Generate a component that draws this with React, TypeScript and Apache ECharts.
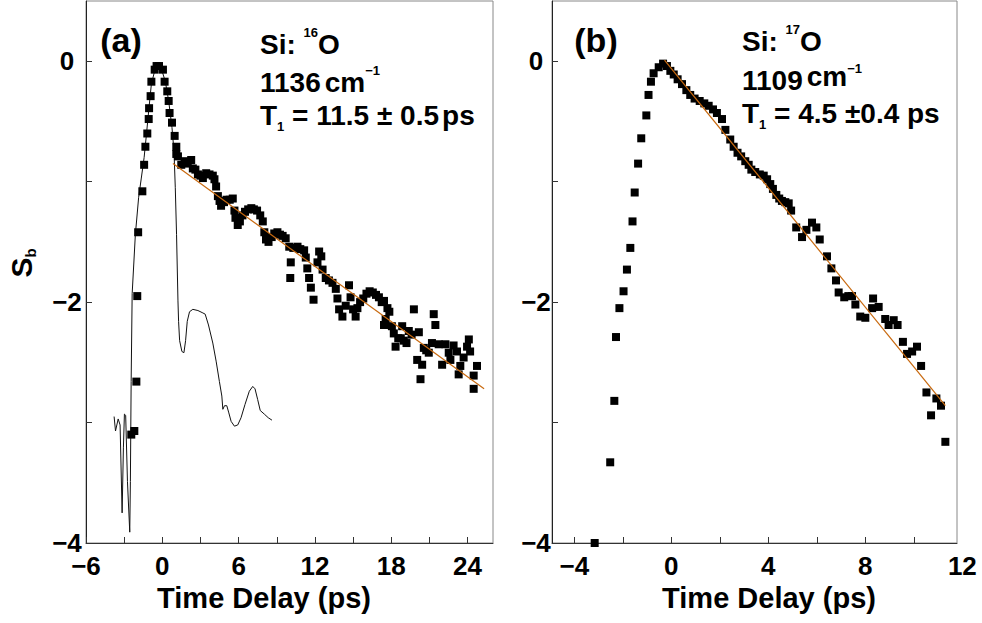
import React, { useEffect, useRef } from "react";
import * as echarts from "echarts";

// ---------- data ----------
const scatterA: number[][] = [
  [-2.44, -3.1], [-2.2, -3.07], [-2.04, -2.66], [-1.97, -1.95], [-1.9, -1.42],
  [-1.57, -1.08], [-1.43, -0.86], [-1.33, -0.71], [-1.18, -0.6], [-1.07, -0.48],
  [-1.04, -0.39], [-0.92, -0.29], [-0.86, -0.17], [-0.6, -0.07], [-0.45, -0.04],
  [-0.26, -0.04], [0.05, -0.07], [0.18, -0.17], [0.39, -0.25], [0.5, -0.33],
  [0.57, -0.43], [0.76, -0.51], [0.97, -0.62], [1.1, -0.71], [1.23, -0.79],
  [1.1, -0.77], [1.49, -0.86], [1.75, -0.83], [2.0, -0.85], [2.27, -0.82],
  [2.4, -0.89], [2.6, -0.9], [2.8, -0.94], [3.0, -0.95], [3.19, -0.97],
  [3.45, -0.93], [3.71, -0.94], [3.97, -0.95], [4.1, -0.98], [4.23, -1.04],
  [4.37, -1.12], [4.5, -1.16], [4.62, -1.2], [4.85, -1.17], [5.05, -1.15],
  [5.3, -1.15], [5.54, -1.14], [5.67, -1.24], [5.75, -1.3], [5.93, -1.36],
  [6.1, -1.33], [6.3, -1.28], [6.5, -1.25], [6.75, -1.23], [7.0, -1.22],
  [7.2, -1.23], [7.45, -1.24], [7.7, -1.28], [7.9, -1.33], [8.02, -1.42],
  [8.15, -1.48], [8.35, -1.5], [8.6, -1.46], [8.8, -1.43], [9.05, -1.42],
  [9.25, -1.44], [9.46, -1.45], [9.7, -1.47], [9.98, -1.54], [10.06, -1.8],
  [10.1, -1.67], [10.3, -1.55], [10.63, -1.54], [10.85, -1.56], [11.15, -1.57],
  [11.28, -1.63], [11.4, -1.72], [11.54, -1.8], [11.68, -1.88], [11.89, -1.98],
  [12.2, -1.67], [12.33, -1.58], [12.5, -1.62], [12.6, -1.73], [12.85, -1.8],
  [13.1, -1.82], [13.38, -1.84], [13.64, -1.89], [13.77, -1.97], [13.9, -2.06],
  [14.16, -2.12], [14.42, -2.03], [14.68, -1.86], [14.8, -1.96], [15.0, -2.06],
  [15.2, -2.12], [15.34, -2.05], [15.55, -2.0], [15.8, -1.97], [16.05, -1.93],
  [16.3, -1.91], [16.55, -1.92], [16.8, -1.94], [17.03, -1.96], [17.25, -2.0],
  [17.43, -1.99], [17.43, -2.19], [17.56, -2.14], [17.7, -2.05], [17.85, -2.08],
  [18.05, -2.2], [18.2, -2.26], [18.34, -2.37], [18.55, -2.3], [18.75, -2.3],
  [18.86, -2.2], [18.99, -2.32], [19.2, -2.34], [19.38, -2.24], [19.6, -2.27],
  [19.78, -2.06], [20.04, -2.48], [20.17, -2.25], [20.3, -2.64], [20.43, -2.52],
  [20.56, -2.38], [20.75, -2.4], [20.95, -2.42], [21.2, -2.34], [21.34, -2.1],
  [21.47, -2.19], [21.73, -2.35], [22.0, -2.52], [22.26, -2.35], [22.52, -2.42],
  [22.65, -2.48], [22.9, -2.36], [23.17, -2.41], [23.3, -2.6], [23.43, -2.53],
  [23.69, -2.46], [23.96, -2.37], [24.1, -2.31], [24.2, -2.41], [24.48, -2.61],
  [24.48, -2.72], [24.74, -2.53]
];

const traceA: number[][] = [
  [-3.79, -2.95], [-3.68, -3.07], [-3.47, -2.97], [-3.32, -3.02], [-3.16, -3.75],
  [-3.06, -3.21], [-2.98, -2.93], [-2.88, -2.94], [-2.74, -3.49], [-2.56, -3.91],
  [-2.51, -3.49], [-2.45, -2.66], [-2.37, -1.93], [-2.12, -1.44], [-1.86, -1.13],
  [-1.65, -0.97], [-1.43, -0.8], [-1.25, -0.61], [-1.07, -0.41], [-0.86, -0.19],
  [-0.6, -0.08], [-0.34, -0.03], [-0.08, -0.06], [0.24, -0.17], [0.5, -0.33],
  [0.76, -0.55], [0.92, -0.75], [1.02, -1.05], [1.12, -1.44], [1.23, -1.99],
  [1.28, -2.16], [1.36, -2.32], [1.54, -2.41], [1.7, -2.42], [1.83, -2.32],
  [1.96, -2.16], [2.14, -2.08], [2.4, -2.06], [2.8, -2.07], [3.19, -2.09],
  [3.37, -2.1], [3.63, -2.19], [3.97, -2.34], [4.23, -2.49], [4.49, -2.66],
  [4.68, -2.78], [4.76, -2.89], [4.89, -2.86], [5.07, -2.86], [5.23, -2.92],
  [5.41, -2.99], [5.67, -3.03], [5.93, -3.02], [6.19, -2.96], [6.5, -2.85],
  [6.84, -2.74], [7.11, -2.7], [7.29, -2.72], [7.5, -2.81], [7.7, -2.9],
  [8.02, -2.93], [8.33, -2.96], [8.62, -2.98]
];

const fitA: number[][] = [[0.84, -0.85], [25.3, -2.72]];

const scatterB: number[][] = [
  [-3.16, -4.0], [-2.52, -3.33], [-2.35, -2.82], [-2.28, -2.29], [-2.14, -2.05],
  [-1.97, -1.91], [-1.83, -1.73], [-1.69, -1.55], [-1.6, -1.33], [-1.51, -1.09],
  [-1.37, -0.85], [-1.24, -0.64], [-1.03, -0.45], [-0.94, -0.28], [-0.84, -0.17],
  [-0.73, -0.1], [-0.52, -0.05], [-0.34, -0.02], [-0.18, -0.04], [-0.04, -0.08],
  [0.1, -0.11], [0.26, -0.15], [0.44, -0.19], [0.62, -0.24], [0.78, -0.28],
  [0.96, -0.31], [1.17, -0.33], [1.36, -0.35], [1.54, -0.37], [1.72, -0.4],
  [1.88, -0.43], [2.09, -0.48], [2.23, -0.57], [2.43, -0.65], [2.57, -0.71],
  [2.73, -0.76], [2.88, -0.79], [3.05, -0.83], [3.19, -0.86], [3.3, -0.9],
  [3.46, -0.92], [3.65, -0.94], [3.81, -0.95], [3.95, -0.98], [4.08, -1.02],
  [4.19, -1.06], [4.33, -1.11], [4.45, -1.14], [4.56, -1.16], [4.7, -1.17],
  [4.84, -1.18], [4.94, -1.24], [5.15, -1.38], [5.39, -1.46], [5.57, -1.4],
  [5.8, -1.34], [5.98, -1.38], [6.12, -1.48], [6.42, -1.62], [6.6, -1.72],
  [6.79, -1.82], [6.9, -1.92], [7.13, -1.96], [7.3, -1.95], [7.45, -1.95],
  [7.59, -2.02], [7.79, -2.12], [8.0, -2.13], [8.28, -2.05], [8.32, -1.97],
  [8.55, -2.04], [8.82, -2.14], [8.96, -2.19], [9.17, -2.15], [9.33, -2.19],
  [9.55, -2.33], [9.72, -2.43], [9.93, -2.41], [10.13, -2.37], [10.3, -2.53],
  [10.52, -2.75], [10.71, -2.94], [10.93, -2.8], [11.12, -2.86], [11.3, -3.16]
];

const fitB: number[][] = [[-0.28, 0.01], [11.3, -2.86]];

const xRangeA = [-6, 26];
const xRangeB = [-4.92, 11.78];
const yRange = [-4, 0.5];
const xTicksA = [-6, -3, 0, 3, 6, 9, 12, 15, 18, 21, 24];
const xLabelsA = [-6, 0, 6, 12, 18, 24];
const xTicksB = [-4, -2, 0, 2, 4, 6, 8, 10];
const xLabelsB = [-4, 0, 4, 8];
const xOverflowLabelB = 12;
const yTicks = [-4, -3, -2, -1, 0];
const yLabels = [-4, -2, 0];

const xTitle = "Time Delay (ps)";
const yTitle = "{s|S}{b|b}";
const panelLabels = ["(a)", "(b)"];
const annotA = [
  "{m|Si: }{sup|16}{m|O}",
  "{m|1136}{cm|cm}{sup2|\u22121}",
  "{m|T}{sub|1}{m| = 11.5 \u00b1 0.5}{ps|ps}",
];
const annotB = [
  "{m|Si: }{sup|17}{m|O}",
  "{m|1109}{cm|cm}{sup2|\u22121}",
  "{m|T}{sub|1}{m| = 4.5 \u00b10.4 ps}",
];

// ---------- styling ----------
const FONT = "'Liberation Sans', Arial, Helvetica, sans-serif";
const ORANGE = "#c8690f";
const TICK_FS = 26;
const fmt = (v: number) => String(v).replace("-", "\u2212");

const xAxisCfg = (gi: number, range: number[], ticks: number[], labels: number[], pad: number[]) => ({
  type: "value",
  gridIndex: gi,
  min: range[0],
  max: range[1],
  axisLine: { show: true, onZero: false, lineStyle: { color: "#333", width: 1 } },
  axisTick: { show: true, inside: true, length: 6, customValues: ticks, lineStyle: { color: "#333" } },
  axisLabel: {
    customValues: labels,
    formatter: fmt,
    margin: 10,
    fontSize: TICK_FS,
    fontWeight: "bold",
    color: "#000",
    fontFamily: FONT,
  },
  splitLine: { show: false },
  name: xTitle,
  nameLocation: "middle",
  nameGap: 40,
  nameTextStyle: { fontSize: 29, fontWeight: "bold", color: "#000", fontFamily: FONT, padding: pad },
});

const yAxisCfg = (gi: number, margin: number, withName: boolean) => ({
  type: "value",
  gridIndex: gi,
  min: yRange[0],
  max: yRange[1],
  axisLine: { show: true, onZero: false, lineStyle: { color: "#222", width: 1 } },
  axisTick: { show: true, inside: true, length: 6, customValues: yTicks, lineStyle: { color: "#333" } },
  axisLabel: {
    customValues: yLabels,
    formatter: fmt,
    margin,
    align: "center",
    fontSize: TICK_FS,
    fontWeight: "bold",
    color: "#000",
    fontFamily: FONT,
  },
  splitLine: { show: false },
  ...(withName
    ? {
        name: yTitle,
        nameLocation: "middle",
        nameGap: 48,
        nameTextStyle: {
          fontFamily: FONT,
          padding: [0, 0, 0, 18],
          rich: {
            s: { fontSize: 30, fontWeight: "bold", color: "#000", fontFamily: FONT, lineHeight: 34 },
            b: { fontSize: 15, fontWeight: "bold", color: "#000", fontFamily: FONT, lineHeight: 12, verticalAlign: "bottom" },
          },
        },
      }
    : {}),
});

const annotRich = (b: boolean) => ({
  m: { fontSize: 28, fontWeight: "bold", fontFamily: FONT, fill: "#000", color: "#000", lineHeight: 36 },
  sup: { fontSize: 13, fontWeight: "bold", fontFamily: FONT, fill: "#000", color: "#000", lineHeight: b ? 18 : 12, verticalAlign: "top" },
  sup2: { fontSize: 13, fontWeight: "bold", fontFamily: FONT, fill: "#000", color: "#000", lineHeight: b ? 20 : 16, verticalAlign: "top" },
  cm: {
    fontSize: 28, fontWeight: "bold", fontFamily: FONT, fill: "#000", color: "#000",
    lineHeight: b ? 22 : 36, verticalAlign: b ? "top" : "middle", padding: [0, 0, 0, 4],
  },
  sub: { fontSize: 13, fontWeight: "bold", fontFamily: FONT, fill: "#000", color: "#000", lineHeight: b ? 7 : 6, verticalAlign: "bottom" },
  ps: { fontSize: 28, fontWeight: "bold", fontFamily: FONT, fill: "#000", color: "#000", lineHeight: 36, padding: [0, 0, 0, 3] },
});

export default function App() {
  const ref = useRef<HTMLDivElement>(null);

  useEffect(() => {
    if (!ref.current) return;
    const chart = echarts.init(ref.current, undefined, { renderer: "svg" });
    const option: any = {
      animation: false,
      backgroundColor: "#fff",
      grid: [
        { left: 86, top: 1, width: 407, height: 542, show: true, borderColor: "#888", borderWidth: 1, backgroundColor: "transparent" },
        { left: 552, top: 1, width: 405, height: 542, show: true, borderColor: "#888", borderWidth: 1, backgroundColor: "transparent" },
      ],
      xAxis: [
        xAxisCfg(0, xRangeA, xTicksA, xLabelsA, [0, 51, 0, 0]),
        xAxisCfg(1, xRangeB, xTicksB, xLabelsB, [0, 0, 0, 29]),
      ],
      yAxis: [yAxisCfg(0, 19, true), yAxisCfg(1, 16, false)],
      series: [
        {
          type: "line", xAxisIndex: 0, yAxisIndex: 0, data: traceA, showSymbol: false,
          lineStyle: { color: "#111", width: 1 }, z: 1, clip: false,
        },
        {
          type: "scatter", xAxisIndex: 0, yAxisIndex: 0, data: scatterA, symbol: "rect", symbolSize: 8,
          itemStyle: { color: "#000", opacity: 1 }, z: 2, clip: false,
        },
        {
          type: "line", xAxisIndex: 0, yAxisIndex: 0, data: fitA, showSymbol: false,
          lineStyle: { color: ORANGE, width: 1.2 }, z: 3,
        },
        {
          type: "scatter", xAxisIndex: 1, yAxisIndex: 1, data: scatterB, symbol: "rect", symbolSize: 8,
          itemStyle: { color: "#000", opacity: 1 }, z: 2, clip: false,
        },
        {
          type: "line", xAxisIndex: 1, yAxisIndex: 1, data: fitB, showSymbol: false,
          lineStyle: { color: ORANGE, width: 1.2 }, z: 3,
        },
      ],
    };
    chart.setOption(option);

    const x12 = chart.convertToPixel({ xAxisIndex: 1 }, xOverflowLabelB) as number;
    const yBottom = chart.convertToPixel({ yAxisIndex: 1 }, yRange[0]) as number;

    const textBase = { fontFamily: FONT, fontWeight: "bold", fill: "#000" };
    const annot = (lines: string[], x: number, ys: number[], b: boolean) =>
      lines.map((t, i) => ({
        type: "text",
        x,
        y: ys[i],
        style: { ...textBase, text: t, fontSize: 28, rich: annotRich(b), align: "left", verticalAlign: "middle" },
      }));

    chart.setOption({
      graphic: [
        { type: "text", x: 121, y: 40, style: { ...textBase, text: panelLabels[0], fontSize: 34, align: "center", verticalAlign: "middle" } },
        { type: "text", x: 596, y: 40, style: { ...textBase, text: panelLabels[1], fontSize: 34, align: "center", verticalAlign: "middle" } },
        ...annot(annotA, 260, [44, 82, 115], false),
        ...annot(annotB, 742, [41, 80, 113], true),
        {
          type: "text", x: x12, y: yBottom + 10,
          style: { ...textBase, text: fmt(xOverflowLabelB), fontSize: TICK_FS, align: "center", verticalAlign: "top" },
        },
      ],
    });

    return () => chart.dispose();
  }, []);

  return (
    <div
      ref={ref}
      style={{ position: "fixed", left: 0, top: 0, width: 982, height: 623, background: "#fff" }}
    />
  );
}
